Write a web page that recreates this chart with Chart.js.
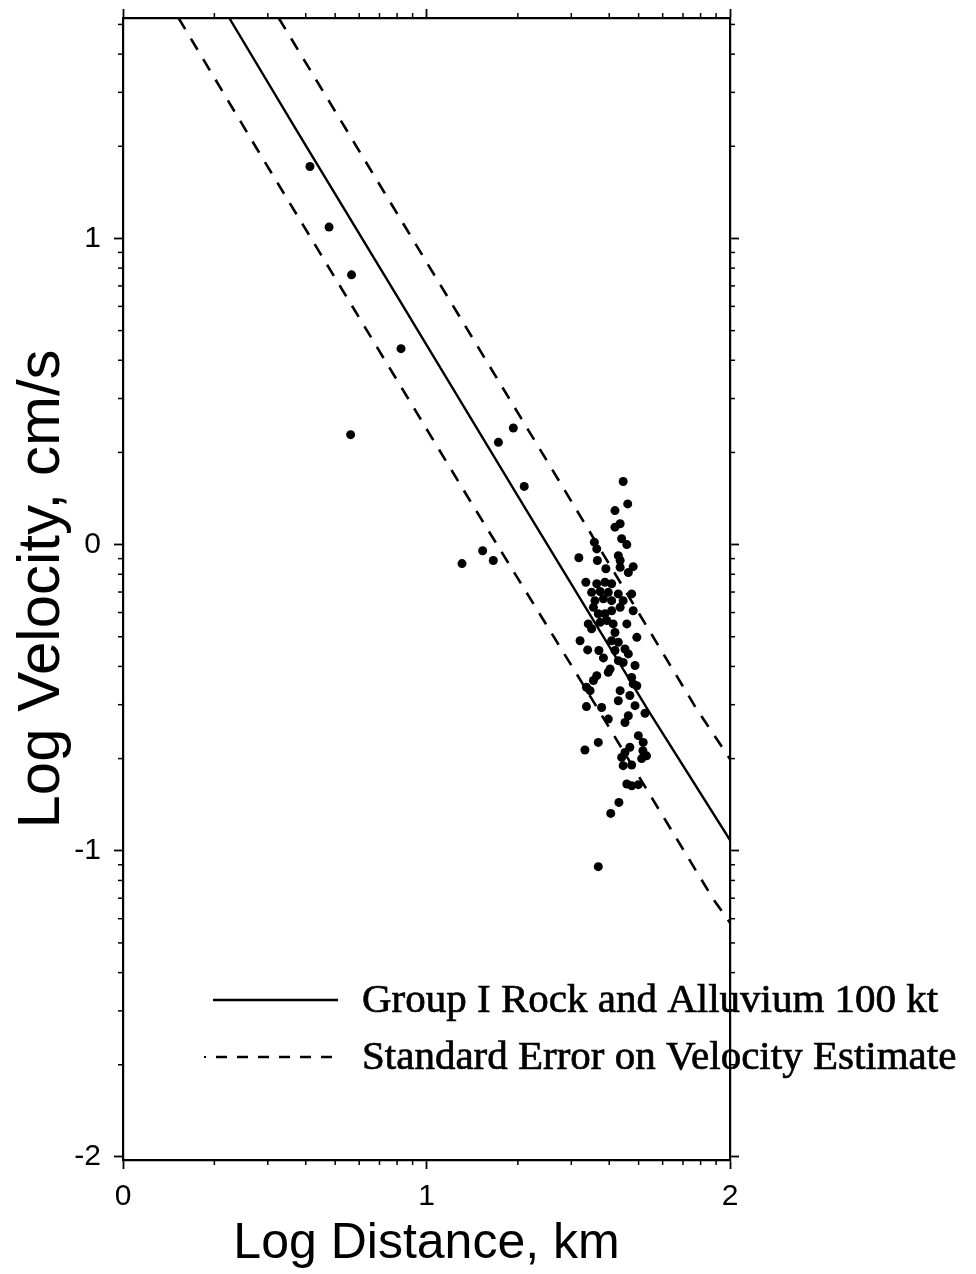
<!DOCTYPE html>
<html>
<head>
<meta charset="utf-8">
<script src="https://cdn.jsdelivr.net/npm/chart.js@4.4.0/dist/chart.umd.min.js"></script>
<style>
html,body{margin:0;padding:0;background:#fff;}
#wrap{width:976px;height:1274px;}
</style>
</head>
<body>
<div id="wrap"><canvas id="chart" width="976" height="1274"></canvas></div>
<script>
// observed records: log distance (km) and log peak velocity (cm/s)
const obsLogDist = [
  0.616,0.679,0.753,0.916,0.750,1.237,1.286,1.322,1.117,1.185,1.220,1.566,
  1.648,1.663,1.621,1.621,1.638,1.553,1.561,1.643,1.660,1.502,1.563,1.632,1.638,1.638,1.681,1.665,1.591,
  1.525,1.561,1.588,1.610,1.544,1.572,1.599,1.632,1.676,1.555,1.583,1.610,1.648,1.638,1.681,1.550,1.566,
  1.588,1.610,1.533,1.544,1.572,1.594,1.615,1.660,1.693,1.506,1.621,1.610,1.632,1.531,1.568,1.583,1.621,
  1.654,1.665,1.632,1.648,1.687,1.605,1.561,1.550,1.676,1.681,1.539,1.638,1.632,1.670,1.527,1.577,1.687,
  1.527,1.599,1.693,1.599,1.665,1.654,1.720,1.698,1.566,1.522,1.714,1.713,1.725,1.709,1.670,1.654,1.643,
  1.648,1.676,1.660,1.676,1.698,1.634,1.607
];
const obsLogVel = [
  1.235,1.037,0.881,0.640,0.359,0.334,0.381,0.190,-0.062,-0.020,-0.052,-1.052,
  0.206,0.133,0.111,0.057,0.068,0.008,-0.014,0.019,0.000,-0.043,-0.052,-0.036,-0.052,-0.074,-0.072,-0.091,-0.079,
  -0.123,-0.128,-0.123,-0.128,-0.156,-0.153,-0.156,-0.161,-0.161,-0.183,-0.177,-0.183,-0.183,-0.205,-0.216,-0.205,-0.226,
  -0.226,-0.216,-0.259,-0.275,-0.254,-0.248,-0.259,-0.259,-0.303,-0.314,-0.287,-0.314,-0.319,-0.344,-0.346,-0.370,-0.346,
  -0.341,-0.357,-0.379,-0.385,-0.395,-0.406,-0.428,-0.444,-0.434,-0.455,-0.477,-0.477,-0.510,-0.493,-0.529,-0.532,-0.526,
  -0.466,-0.417,-0.461,-0.570,-0.559,-0.581,-0.551,-0.624,-0.646,-0.671,-0.646,-0.673,-0.690,-0.699,-0.662,-0.679,-0.695,
  -0.722,-0.720,-0.782,-0.788,-0.784,-0.842,-0.878
];

// fitted attenuation curve and one standard error either side
const fitLogDist   = [0.350, 0.572, 0.906, 1.330, 1.731, 2.000];
const fitLogVel    = [1.720, 1.353, 0.807, 0.111, -0.542, -0.965];
const upperLogDist = [0.513, 0.764, 1.396, 1.890, 2.000];
const upperLogVel  = [1.720, 1.309, 0.275, -0.537, -0.700];
const lowerLogDist = [0.183, 0.441, 1.143, 1.495, 1.945, 2.000];
const lowerLogVel  = [1.720, 1.293, 0.144, -0.423, -1.158, -1.235];

const xMajor = [0, 1, 2];
const yMajor = [-2, -1, 0, 1];
const xMin = 0, xMax = 2, yMin = -2.01, yMax = 1.72;

const fitLabel = "Group I Rock and Alluvium 100 kt";
const errLabel = "Standard Error on Velocity Estimate";

const toXY = (xs, ys) => xs.map((x, i) => ({ x, y: ys[i] }));
const setMajor = vals => s => { s.ticks = vals.map(v => ({ value: v })); };
// fixed box sizes so the frame sits at the same place every time
const fixWidth = w => s => { s.width = w; s.paddingTop = 0; s.paddingBottom = 0; };
const fixHeight = h => s => { s.height = h; s.paddingLeft = 0; s.paddingRight = 0; };

function minorValues(min, max){
  const out = [];
  for(let d = Math.floor(min); d < max; d++)
    for(let k = 2; k < 10; k++){ const v = d + Math.log10(k); if(v > min && v < max) out.push(v); }
  return out;
}

// small log-cycle ticks on all four sides of the frame
const minorTicks = {
  id: "minorTicks",
  afterDraw(chart){
    const ctx = chart.ctx, a = chart.chartArea;
    ctx.save(); ctx.strokeStyle = "#000"; ctx.lineWidth = 1.5;
    [["x", a.bottom, 1], ["x2", a.top, -1]].forEach(([id, y0, dir]) => {
      const s = chart.scales[id];
      minorValues(s.min, s.max).forEach(v => {
        const px = s.getPixelForValue(v);
        ctx.beginPath(); ctx.moveTo(px, y0); ctx.lineTo(px, y0 + dir*5); ctx.stroke();
      });
    });
    [["y", a.left, -1], ["y2", a.right, 1]].forEach(([id, x0, dir]) => {
      const s = chart.scales[id];
      minorValues(s.min, s.max).forEach(v => {
        const py = s.getPixelForValue(v);
        ctx.beginPath(); ctx.moveTo(x0, py); ctx.lineTo(x0 + dir*5, py); ctx.stroke();
      });
    });
    ctx.restore();
  }
};

// legend block in the lower part of the plot
const keyBox = {
  id: "keyBox",
  afterDraw(chart){
    const ctx = chart.ctx;
    ctx.save();
    ctx.strokeStyle = "#000"; ctx.fillStyle = "#000"; ctx.lineWidth = 2.4;
    ctx.beginPath(); ctx.moveTo(213, 1000); ctx.lineTo(338, 1000); ctx.stroke();
    ctx.setLineDash([11, 10]);
    ctx.beginPath(); ctx.moveTo(216, 1057); ctx.lineTo(340, 1057); ctx.stroke();
    ctx.setLineDash([]);
    ctx.fillRect(204, 1056, 2, 2);
    ctx.font = "41px 'Liberation Serif', 'Times New Roman', serif";
    ctx.textBaseline = "alphabetic";
    ctx.lineWidth = 0.7;
    [[fitLabel, 1012], [errLabel, 1069]].forEach(([t, y]) => { ctx.fillText(t, 362, y); ctx.strokeText(t, 362, y); });
    ctx.restore();
  }
};

const axisBase = {
  type: "linear",
  grid: { drawOnChartArea: false, drawTicks: true, tickLength: 9, color: "#000", tickWidth: 1.8 },
  border: { display: true, color: "#000", width: 2.2 }
};
const tickFont = { family: "'Liberation Sans', Arial, sans-serif", size: 30 };

new Chart(document.getElementById("chart"), {
  type: "scatter",
  data: {
    datasets: [
      { label: "records", data: toXY(obsLogDist, obsLogVel), pointRadius: 4.5, pointBackgroundColor: "#000", pointBorderWidth: 0 },
      { label: fitLabel, data: toXY(fitLogDist, fitLogVel), showLine: true, pointRadius: 0, borderColor: "#000", borderWidth: 2.4 },
      { label: errLabel, data: toXY(upperLogDist, upperLogVel), showLine: true, pointRadius: 0, borderColor: "#000", borderWidth: 2.6, borderDash: [13, 11] },
      { label: errLabel, data: toXY(lowerLogDist, lowerLogVel), showLine: true, pointRadius: 0, borderColor: "#000", borderWidth: 2.6, borderDash: [13, 11] }
    ]
  },
  options: {
    responsive: false,
    animation: false,
    layout: { padding: 0 },
    plugins: { legend: { display: false }, tooltip: { enabled: false } },
    scales: {
      x: { ...axisBase, position: "bottom", min: xMin, max: xMax,
        afterBuildTicks: setMajor(xMajor), afterFit: fixHeight(114),
        ticks: { color: "#000", padding: 10, font: tickFont },
        title: { display: true, text: "Log Distance, km", color: "#000", padding: { top: 0, bottom: 0 },
          font: { family: "'Liberation Sans', Arial, sans-serif", size: 50 } } },
      x2: { ...axisBase, position: "top", min: xMin, max: xMax,
        afterBuildTicks: setMajor(xMajor), afterFit: fixHeight(18),
        ticks: { display: false } },
      y: { ...axisBase, position: "left", min: yMin, max: yMax,
        afterBuildTicks: setMajor(yMajor), afterFit: fixWidth(123),
        ticks: { color: "#000", padding: 13, font: tickFont },
        title: { display: true, text: "Log Velocity, cm/s", color: "#000", padding: { top: 6, bottom: 0 },
          font: { family: "'Liberation Sans', Arial, sans-serif", size: 60 } } },
      y2: { ...axisBase, position: "right", min: yMin, max: yMax,
        afterBuildTicks: setMajor(yMajor), afterFit: fixWidth(246),
        ticks: { display: false } }
    }
  },
  plugins: [minorTicks, keyBox]
});
</script>
</body>
</html>
